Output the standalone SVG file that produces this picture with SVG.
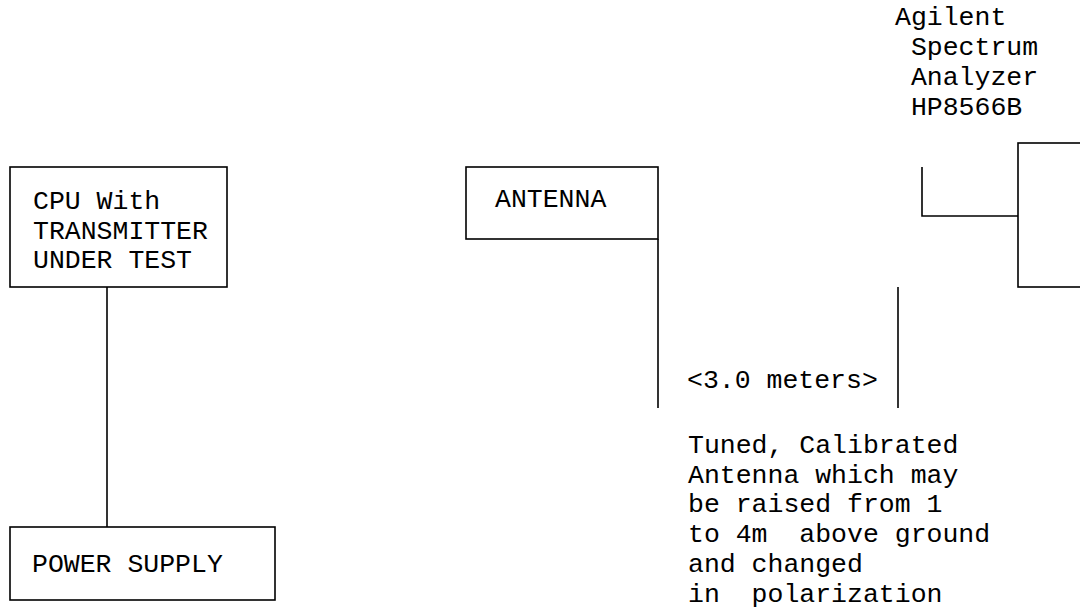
<svg xmlns="http://www.w3.org/2000/svg" width="1080" height="611" viewBox="0 0 1080 611">
<style>
.box{fill:none;stroke:#000;stroke-width:1.6}
.ln{fill:none;stroke:#000;stroke-width:1.6}
text{font-family:"Liberation Mono","Courier New",monospace;font-size:26.5px;fill:#000;white-space:pre}
</style>
<rect width="1080" height="611" fill="#fff"/>
<g id="connectors">
<line class="ln" x1="107" y1="287" x2="107" y2="527"/>
<line class="ln" x1="658" y1="239" x2="658" y2="408"/>
<line class="ln" x1="898" y1="287" x2="898" y2="408"/>
<polyline class="ln" points="922,167 922,216 1018,216"/>
</g>
<g id="cpu">
<rect class="box" x="10" y="167" width="217" height="120"/>
<text x="33" y="209">CPU With</text>
<text x="33" y="239">TRANSMITTER</text>
<text x="33" y="268">UNDER TEST</text>
</g>
<g id="power">
<rect class="box" x="10" y="527" width="265" height="73"/>
<text x="32" y="572">POWER SUPPLY</text>
</g>
<g id="antenna">
<rect class="box" x="466" y="167" width="192" height="72"/>
<text x="495" y="207">ANTENNA</text>
</g>
<g id="analyzer">
<rect class="box" x="1018" y="143" width="70" height="144"/>
<text x="895" y="25">Agilent</text>
<text x="895" y="55"> Spectrum</text>
<text x="895" y="85"> Analyzer</text>
<text x="895" y="115"> HP8566B</text>
</g>
<g id="distance">
<text x="687" y="388">&lt;3.0 meters&gt;</text>
</g>
<g id="note">
<text x="688" y="453">Tuned, Calibrated</text>
<text x="688" y="483">Antenna which may</text>
<text x="688" y="512">be raised from 1</text>
<text x="688" y="542">to 4m  above ground</text>
<text x="688" y="572">and changed</text>
<text x="688" y="602">in  polarization</text>
</g>
</svg>
